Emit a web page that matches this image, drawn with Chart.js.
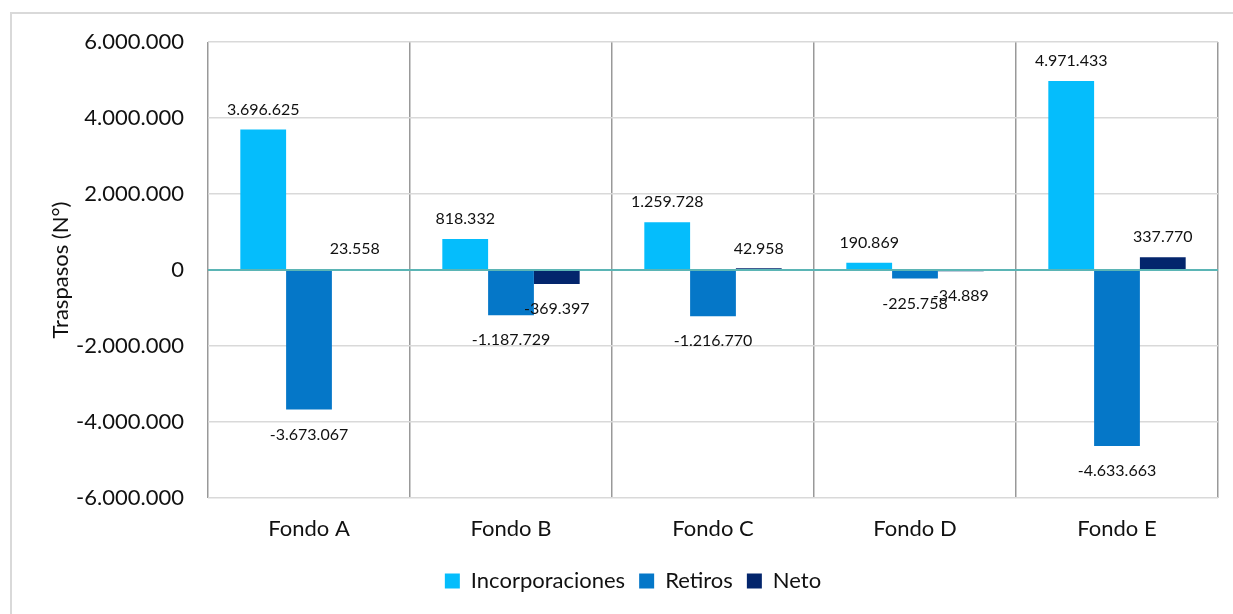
<!DOCTYPE html>
<html>
<head>
<meta charset="utf-8">
<script src="https://cdn.jsdelivr.net/npm/chart.js@4/dist/chart.umd.min.js"></script>
<style>
  body { margin: 0; background: #fff; }
  #wrap { position: relative; width: 1233px; height: 614px; }
  #frame { position: absolute; left: 10px; top: 12px; right: -5px; bottom: -5px;
           border-left: 2px solid #d9d9d9; border-top: 2px solid #d9d9d9; }
  canvas { position: absolute; left: 0; top: 0; }
</style>
</head>
<body>
<div id="wrap">
  <div id="frame"></div>
  <canvas id="traspasosChart" width="1233" height="614"></canvas>
</div>
<script>
// Datos
const fondos = ["Fondo A", "Fondo B", "Fondo C", "Fondo D", "Fondo E"];
const incorporaciones = [3696625, 818332, 1259728, 190869, 4971433];
const retiros = [-3673067, -1187729, -1216770, -225758, -4633663];
const neto = [23558, -369397, 42958, -34889, 337770];
const yTicks = [-6000000, -4000000, -2000000, 0, 2000000, 4000000, 6000000];

const FONT = "Lato, 'Open Sans', sans-serif";

function fmt(v) {
  const s = Math.abs(Math.round(v)).toString().replace(/\B(?=(\d{3})+(?!\d))/g, ".");
  return (v < 0 ? "-" : "") + s;
}

// etiquetas de valor sobre/bajo cada barra
const valueLabels = {
  id: "valueLabels",
  afterDatasetsDraw(chart) {
    const ctx = chart.ctx;
    ctx.save();
    ctx.font = "16px " + FONT;
    ctx.fillStyle = "#111";
    ctx.textAlign = "center";
    ctx.textBaseline = "middle";
    chart.data.datasets.forEach((ds, i) => {
      chart.getDatasetMeta(i).data.forEach((bar, j) => {
        const v = ds.data[j];
        const y = v >= 0 ? bar.y - 20 : bar.y + 25;
        ctx.fillText(fmt(v), bar.x, y);
      });
    });
    ctx.restore();
  },
};

// la leyenda queda un poco a la derecha del centro
const legendShift = {
  id: "legendShift",
  afterLayout(chart) {
    chart.legend.left += 18;
    chart.legend.right += 18;
  },
};

const ctx = document.getElementById("traspasosChart").getContext("2d");

const chart = new Chart(ctx, {
  type: "bar",
  data: {
    labels: fondos,
    datasets: [
      {
        label: "Incorporaciones",
        data: incorporaciones,
        backgroundColor: "#05BDFC",
      },
      {
        label: "Retiros",
        data: retiros,
        backgroundColor: "#0577C8",
      },
      {
        label: "Neto",
        data: neto,
        backgroundColor: "#03256C",
      },
    ],
  },
  options: {
    responsive: false,
    animation: false,
    categoryPercentage: 0.68,
    barPercentage: 1,
    layout: { padding: { left: 12, right: 15, top: 42, bottom: 12 } },
    scales: {
      x: {
        grid: {
          offset: true,
          color: "#999999",
          lineWidth: 1.5,
          drawTicks: false,
        },
        border: { display: false },
        ticks: { color: "#111", font: { family: FONT, size: 22 }, padding: 18 },
        afterFit(scale) {
          scale.height = 58;
        },
      },
      y: {
        min: -6000000,
        max: 6000000,
        afterBuildTicks(scale) {
          scale.ticks = yTicks.map((v) => ({ value: v }));
        },
        afterFit(scale) {
          scale.width = 196;
        },
        grid: {
          color: (c) => (c.tick && c.tick.value === 0 ? "#5BB5B5" : "#d9d9d9"),
          lineWidth: (c) => (c.tick && c.tick.value === 0 ? 2 : 1.5),
          drawTicks: false,
        },
        border: { display: false },
        ticks: {
          color: "#111",
          font: { family: FONT, size: 22 },
          padding: 24,
          callback: (v) => fmt(v),
        },
        title: {
          display: true,
          text: "Traspasos (N°)",
          color: "#111",
          font: { family: FONT, size: 22 },
          padding: { top: 36, bottom: 0 },
        },
      },
    },
    plugins: {
      legend: {
        position: "bottom",
        labels: {
          color: "#111",
          font: { family: FONT, size: 22 },
          boxWidth: 15,
          boxHeight: 15,
          padding: 14,
        },
      },
      tooltip: { enabled: false },
    },
  },
  plugins: [valueLabels, legendShift],
});
</script>
</body>
</html>
